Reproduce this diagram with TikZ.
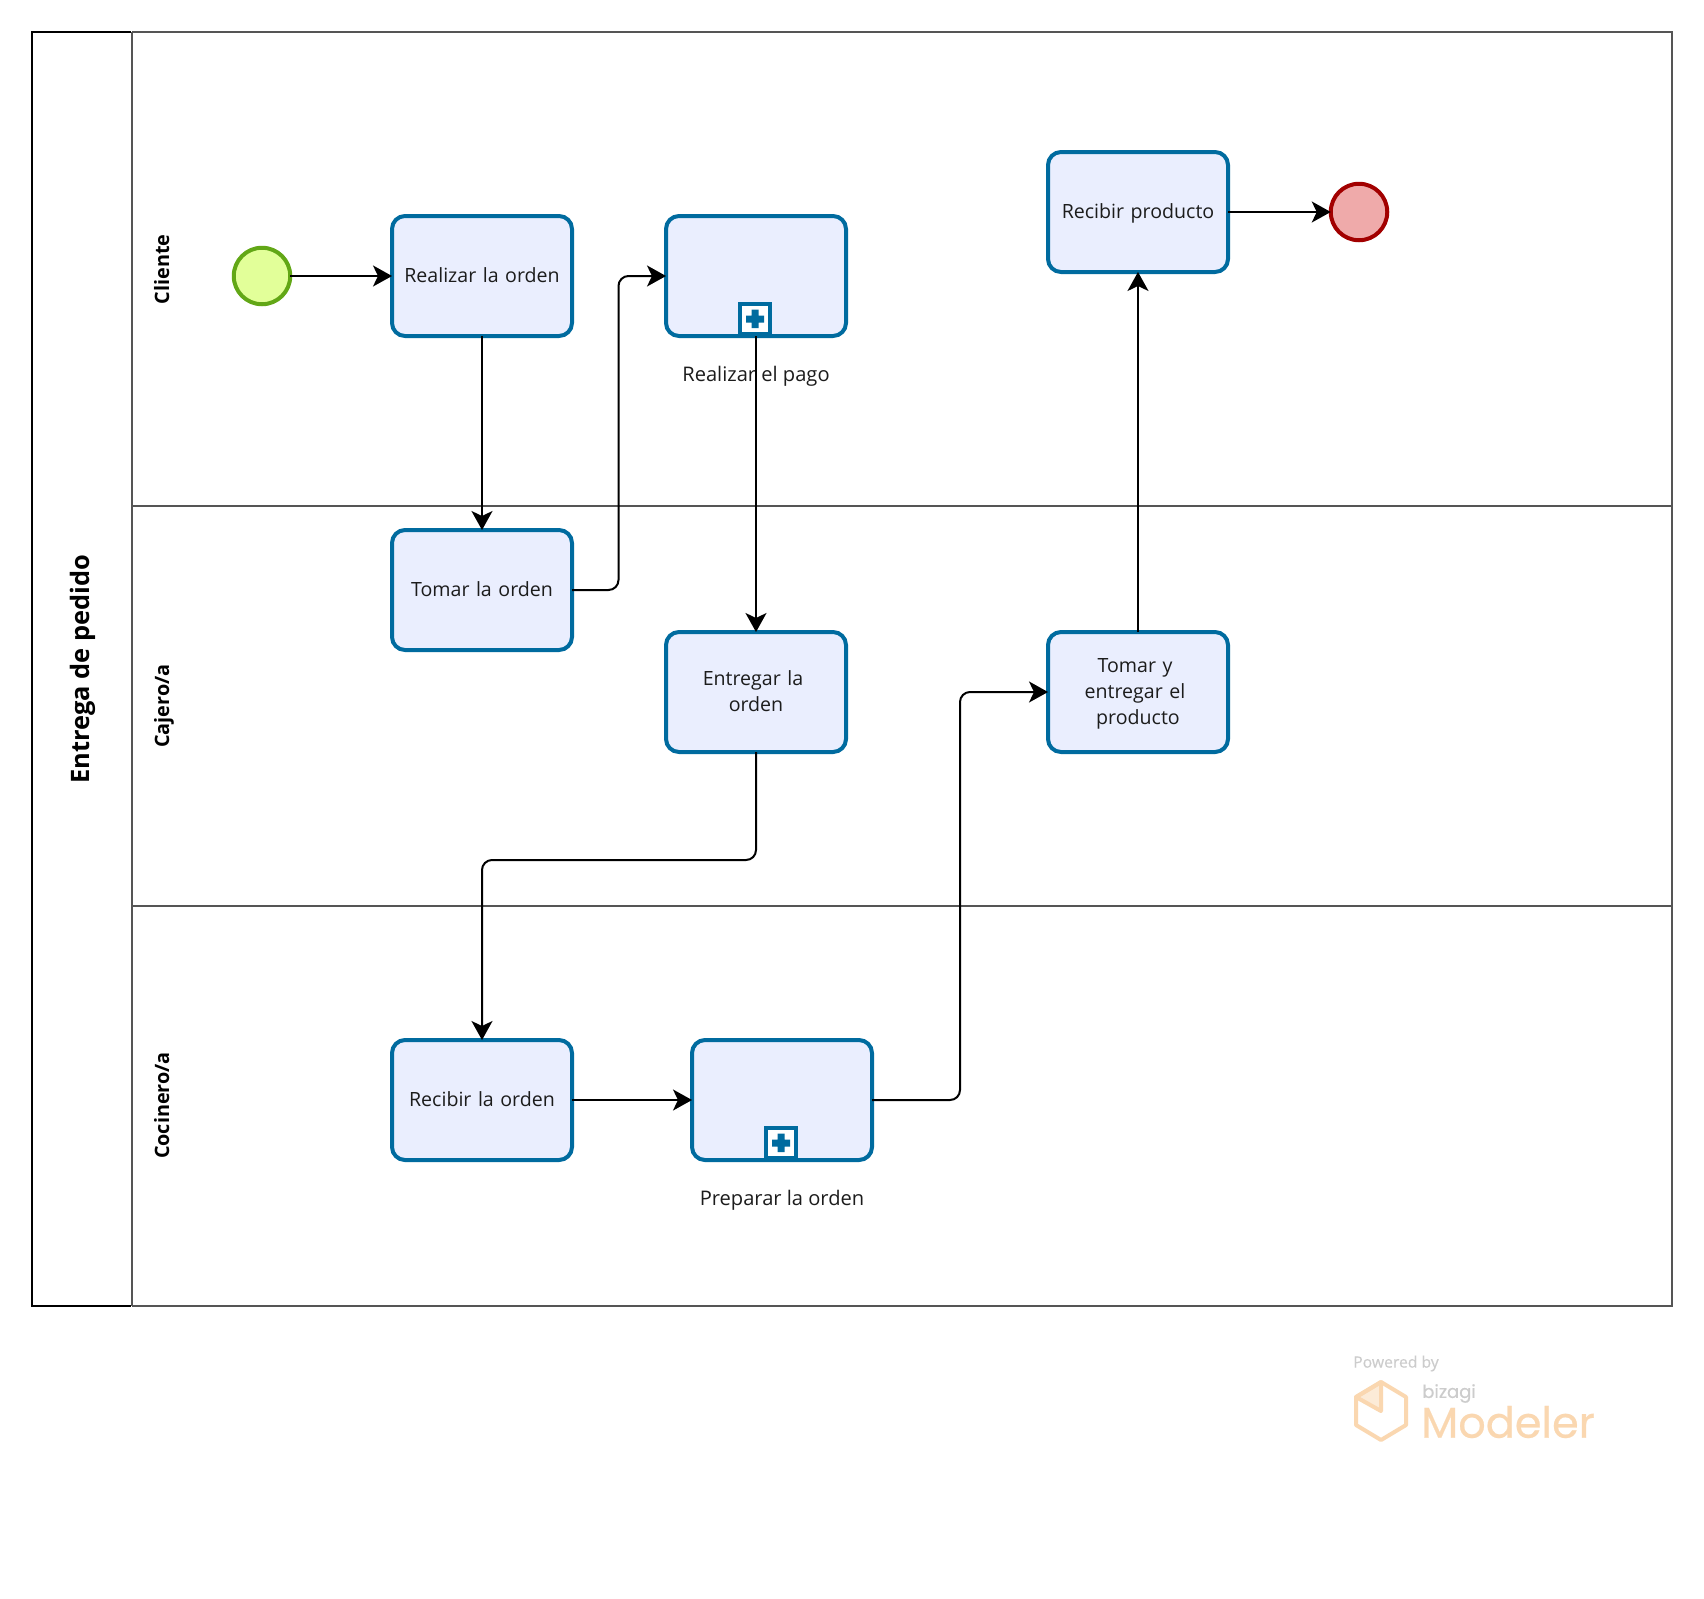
\documentclass[tikz,border=0pt]{standalone}
\usepackage{fontspec}
\setmainfont{Open Sans}
\newfontfamily\logofont{Poppins}
\newfontfamily\logofontb[FakeBold=0.5]{Poppins}
\newfontfamily\powerfont[FakeBold=0.3]{Open Sans}
\usetikzlibrary{arrows.meta}
\definecolor{taskline}{HTML}{006B9F}
\definecolor{taskfill}{HTML}{EAEEFE}
\definecolor{laneline}{HTML}{555555}
\definecolor{txt}{HTML}{1C1C1C}
\definecolor{startline}{HTML}{62A716}
\definecolor{startfill}{HTML}{E2FF99}
\definecolor{endline}{HTML}{A20000}
\definecolor{endfill}{HTML}{EFAAAA}
\definecolor{logoorange}{HTML}{FAD7B0}
\definecolor{logogray}{HTML}{CCCCCC}
\newcommand{\taskstrut}{\rule[-6.5pt]{0pt}{26pt}}
\tikzset{
 x=1pt,y=-1pt,
 tasknode/.style={draw=taskline,fill=taskfill,line width=4pt,rounded corners=13pt,minimum width=180pt,minimum height=120pt,inner sep=0pt,outer sep=0pt,align=center,text=txt,font=\fontsize{19.6}{26}\selectfont,text width=165pt,execute at begin node=\taskstrut,execute at end node=\taskstrut},
 evt/.style={circle,line width=4pt,minimum size=56.5pt,inner sep=0pt,outer sep=0pt},
 startevt/.style={evt,draw=startline,fill=startfill},
 endevt/.style={evt,draw=endline,fill=endfill},
 flow/.style={draw=black,line width=2pt,rounded corners=10pt,-{Stealth[length=19pt,width=21pt,inset=5pt]}},
 sublabel/.style={text=txt,font=\fontsize{20.1}{26}\selectfont,inner sep=0pt},
 lanelabel/.style={rotate=90,text=black,font=\bfseries\fontsize{19.8}{26}\selectfont,inner sep=0pt,text height=15pt,text depth=5pt},
 markerbox/.style={draw=taskline,fill=white,line width=4pt,minimum size=30pt,inner sep=0pt,outer sep=0pt},
 lane/.style={draw=laneline,line width=2pt},
}
\begin{document}
\begin{tikzpicture}
\useasboundingbox (0,0) rectangle (1704,1598);
\fill[white] (0,0) rectangle (1704,1598);
% pool and lanes
\draw[lane] (132,32) -- (1672,32) -- (1672,1306) -- (132,1306);
\draw[lane] (132,32) -- (132,1306);
\draw[lane] (132,505.5) -- (1672,505.5);
\draw[lane] (132,905.5) -- (1672,905.5);
\draw[black,line width=2.2pt] (131,32) -- (32,32) -- (32,1306) -- (131,1306);
\node[rotate=90,text=black,font=\bfseries\fontsize{25.4}{30}\selectfont,inner sep=0pt] (pool) at (83,669) {Entrega de pedido};
\node[lanelabel] (l1) at (164,269.5) {Cliente};
\node[lanelabel] (l2) at (164,706) {Cajero/a};
\node[lanelabel] (l3) at (164,1105.5) {Cocinero/a};
% events
\node[startevt] (start) at (262,276) {};
\node[endevt] (end) at (1359,212) {};
% tasks
\node[tasknode] (t1) at (482,276) {Realizar la orden};
\node[tasknode] (t2) at (756,276) {};
\node[tasknode] (t3) at (1138,212) {Recibir producto};
\node[tasknode] (t4) at (482,590) {Tomar la orden};
\node[tasknode] (t5) at (756,692) {Entregar la\rule{6pt}{0pt}\\orden};
\node[tasknode] (t6) at (1138,692) {Tomar y\rule{6pt}{0pt}\\entregar el\rule{6pt}{0pt}\\producto};
\node[tasknode] (t7) at (482,1100) {Recibir la orden};
\node[tasknode] (t8) at (782,1100) {};
% sub-process markers
\node[markerbox] (m2) at (755,318.5) {};
\fill[taskline] (746,315.5) rectangle (764,322.5) (751.5,309.5) rectangle (758.5,328);
\node[markerbox] (m8) at (781,1142.5) {};
\fill[taskline] (772,1139.5) rectangle (790,1146.5) (777.5,1133.5) rectangle (784.5,1152);
% sub-process labels
\node[sublabel] (lb2) at (756,376) {Realizar el pago};
\node[sublabel] (lb8) at (782,1200) {Preparar la orden};
% connectors
\coordinate (r1) at (618.5,590);
\coordinate (r2) at (618.5,276);
\coordinate (r3) at (756,860);
\coordinate (r4) at (482,860);
\coordinate (r5) at (960,1100);
\coordinate (r6) at (960,692);
\draw[flow] (start) -- (t1);
\draw[flow] (t1) -- (t4);
\draw[flow] (t4.east) -- (r1) -- (r2) -- (t2.west);
\draw[flow] (t2.south) -- (t5.north);
\draw[flow] (t5.south) -- (r3) -- (r4) -- (t7.north);
\draw[flow] (t7) -- (t8);
\draw[flow] (t8.east) -- (r5) -- (r6) -- (t6.west);
\draw[flow] (t6) -- (t3);
\draw[flow] (t3) -- (end);
% watermark
\node[text=logogray,font=\powerfont\fontsize{15.7}{17}\selectfont,inner sep=0pt] (pw) at (1396,1363.5) {Powered by};
\filldraw[draw=logoorange,fill=logoorange!50,line width=4pt,line join=round] (1356,1397) -- (1381,1382) -- (1381,1411) -- cycle;
\draw[logoorange,line width=4pt,line join=round] (1381,1382) -- (1406,1397) -- (1406,1425) -- (1381,1440) -- (1356,1425) -- (1356,1397) -- cycle;
\node[text=logogray,font=\logofontb\fontsize{18}{20}\selectfont,inner sep=0pt] (bz) at (1449,1393.5) {bizagi};
\node[text=logoorange,font=\logofontb\fontsize{43}{44}\selectfont,inner sep=0pt] (md) at (1508,1422) {Modeler};
\end{tikzpicture}
\end{document}
